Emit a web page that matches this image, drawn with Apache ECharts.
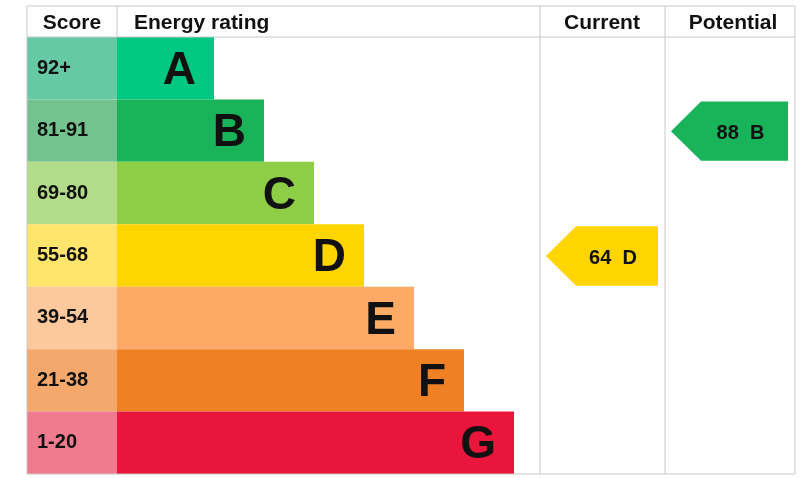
<!DOCTYPE html><html><head><meta charset="utf-8">
<script src="https://cdn.jsdelivr.net/npm/echarts@6/dist/echarts.min.js"></script>
<style>html,body{margin:0;background:#fff}#c{width:803px;height:478px}</style></head><body><div id="c"></div>
<script>
const ratings=['A','B','C','D','E','F','G'];
const scoreLabels=['92+','81-91','69-80','55-68','39-54','21-38','1-20'];
const barLengths=[2,3,4,5,6,7,8];
const barColors=['#00c781','#19b459','#8dce46','#ffd500','#fcaa65','#ef8023','#e9153b'];
const scoreColors=['#66c9a5','#74c28e','#b3dc8a','#ffe56b','#fdc89c','#f4a86b','#f07a8e'];
const current={score:64,rating:'D'};
const potential={score:88,rating:'B'};
const font='Liberation Sans, Arial, sans-serif';
const T=37,B=4;
const cat={type:'category',data:ratings,inverse:true,show:false};
function arrow(item,gi){
  const idx=ratings.indexOf(item.rating);
  return {type:'custom',xAxisIndex:gi,yAxisIndex:gi,data:[[0,idx]],
    renderItem:(p,api)=>{
      const cs=p.coordSys;const c=api.coord([0,idx]);const h=api.size([0,1])[1];
      const y0=c[1]-h/2+2,y1=c[1]+h/2-1,x0=cs.x+6,x1=cs.x+cs.width-7,w=30;
      return {type:'group',children:[
        {type:'polygon',shape:{points:[[x0,(y0+y1)/2],[x0+w,y0],[x1,y0],[x1,y1],[x0+w,y1]]},style:{fill:barColors[idx]}},
        {type:'text',style:{text:item.score+'  '+item.rating,x:(x0+w+x1)/2-4,y:(y0+y1)/2+2,align:'center',verticalAlign:'middle',fontSize:20,fontWeight:'bold',fontFamily:font,fill:'#111'}}]};
    }};
}
const chart=echarts.init(document.getElementById('c'));
chart.setOption({animation:false,
 grid:[{left:27,width:90,top:T,bottom:B},{left:117,width:397,top:T,bottom:B},{left:540,width:125,top:T,bottom:B},{left:665,width:130,top:T,bottom:B}],
 xAxis:[{gridIndex:0,type:'value',min:0,max:1,show:false},{gridIndex:1,type:'value',min:0.06,max:8,show:false},{gridIndex:2,type:'value',min:0,max:1,show:false},{gridIndex:3,type:'value',min:0,max:1,show:false}],
 yAxis:[0,1,2,3].map(i=>Object.assign({gridIndex:i},cat)),
 series:[
  {type:'bar',xAxisIndex:0,yAxisIndex:0,barCategoryGap:0,data:scoreLabels.map((s,i)=>({value:1,itemStyle:{color:scoreColors[i]}})),
   label:{show:true,position:'insideLeft',formatter:p=>scoreLabels[p.dataIndex],fontSize:20,fontWeight:'bold',fontFamily:font,color:'#111',distance:10}},
  {type:'bar',xAxisIndex:1,yAxisIndex:1,barCategoryGap:0,barGap:0,data:barLengths.map((v,i)=>({value:v,itemStyle:{color:barColors[i]}})),
   label:{show:true,position:'insideRight',formatter:p=>ratings[p.dataIndex],fontSize:46,fontWeight:'bold',fontFamily:font,color:'#111',distance:18,offset:[0,3]}},
  arrow(current,2),arrow(potential,3)
 ],
 graphic:[
  {type:'rect',shape:{x:27,y:6,width:768,height:468},style:{fill:'none',stroke:'#c8c8c8',lineWidth:1},z:10},
  ...[[27,37,795,37],[117,6,117,37],[540,6,540,474],[665,6,665,474]].map(l=>({type:'line',shape:{x1:l[0],y1:l[1],x2:l[2],y2:l[3]},style:{stroke:'#c8c8c8',lineWidth:1},z:10})),
  ...[['Score',72,'center'],['Energy rating',134,'left'],['Current',602,'center'],['Potential',733,'center']].map(t=>({type:'text',style:{text:t[0],x:t[1],y:23,align:t[2],verticalAlign:'middle',fontSize:21,fontWeight:'bold',fontFamily:font,fill:'#111'},z:11}))
 ]});
</script></body></html>
